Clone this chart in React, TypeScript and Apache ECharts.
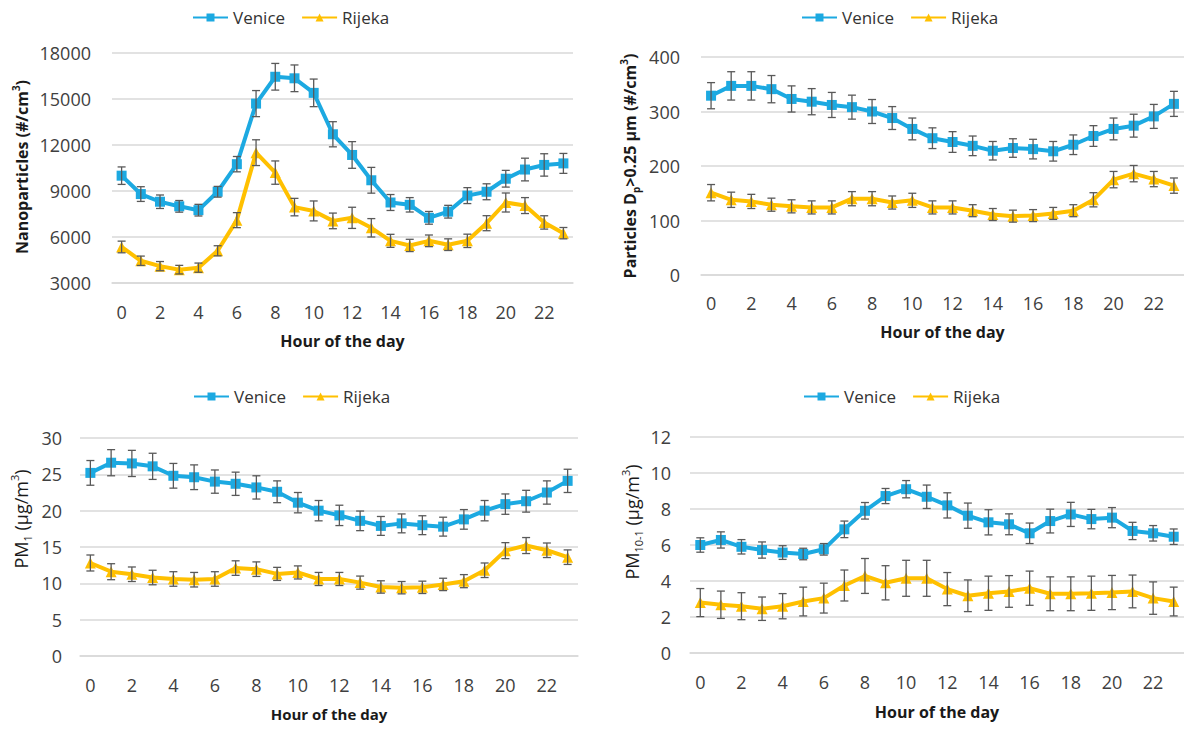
import React, { useEffect, useRef } from "react";
import * as echarts from "echarts";

const hours = ["0","1","2","3","4","5","6","7","8","9","10","11","12","13","14","15","16","17","18","19","20","21","22","23"];

const nanoVenice = [10000, 8800, 8300, 8000, 7750, 8950, 10750, 14700, 16450, 16350, 15400, 12700, 11350, 9700, 8250, 8100, 7250, 7650, 8700, 8950, 9800, 10400, 10700, 10800];
const nanoVeniceErr = [570, 480, 440, 380, 380, 350, 500, 850, 870, 870, 900, 820, 870, 840, 520, 470, 415, 415, 520, 520, 545, 740, 730, 650];
const nanoRijeka = [5350, 4450, 4100, 3870, 4000, 5100, 7100, 11500, 10200, 7950, 7700, 7050, 7250, 6600, 5750, 5450, 5750, 5500, 5750, 6900, 8250, 8050, 6950, 6250];
const nanoRijekaErr = [380, 305, 300, 280, 300, 330, 490, 840, 760, 570, 650, 510, 690, 600, 425, 400, 380, 380, 435, 490, 620, 520, 435, 370];

const partVenice = [329, 347, 347, 341, 323, 318, 312, 308, 300, 288, 268, 251, 244, 237, 228, 233, 231, 227, 239, 255, 268, 274, 291, 314];
const partVeniceErr = [24, 26, 26, 25, 24, 24, 23, 22, 22, 21, 20, 19, 19, 18, 17, 17, 18, 18, 18, 19, 20, 21, 22, 23];
const partRijeka = [151, 138, 135, 129, 126, 124, 124, 140, 140, 133, 137, 124, 124, 118, 111, 108, 109, 113, 118, 138, 175, 186, 176, 164];
const partRijekaErr = [15, 14, 13, 12, 12, 12, 12, 13, 13, 12, 13, 12, 12, 11, 11, 11, 11, 11, 11, 13, 15, 15, 14, 14];

const pm1Venice = [25.2, 26.6, 26.5, 26.1, 24.8, 24.6, 24.0, 23.7, 23.2, 22.6, 21.1, 20.0, 19.35, 18.6, 17.9, 18.25, 18.0, 17.8, 18.8, 20.0, 20.9, 21.3, 22.5, 24.1];
const pm1VeniceErr = [1.7, 1.8, 1.8, 1.8, 1.7, 1.7, 1.6, 1.6, 1.6, 1.5, 1.4, 1.4, 1.4, 1.35, 1.3, 1.3, 1.3, 1.3, 1.35, 1.4, 1.4, 1.5, 1.6, 1.6];
const pm1Rijeka = [12.8, 11.6, 11.25, 10.8, 10.6, 10.5, 10.6, 12.1, 11.95, 11.3, 11.5, 10.6, 10.6, 10.1, 9.5, 9.4, 9.45, 9.85, 10.3, 11.8, 14.5, 15.2, 14.55, 13.6];
const pm1RijekaErr = [1.1, 1.1, 1.0, 1.0, 1.0, 1.0, 1.0, 1.0, 1.0, 0.9, 0.9, 0.9, 0.9, 0.9, 0.85, 0.85, 0.85, 0.85, 0.9, 1.0, 1.1, 1.1, 1.0, 1.0];

const pm101Venice = [6.0, 6.28, 5.9, 5.72, 5.58, 5.5, 5.76, 6.87, 7.9, 8.72, 9.1, 8.68, 8.2, 7.63, 7.26, 7.15, 6.65, 7.33, 7.7, 7.44, 7.52, 6.78, 6.65, 6.46];
const pm101VeniceErr = [0.4, 0.45, 0.4, 0.45, 0.38, 0.32, 0.32, 0.46, 0.46, 0.42, 0.48, 0.65, 0.7, 0.7, 0.7, 0.58, 0.57, 0.66, 0.67, 0.54, 0.56, 0.48, 0.43, 0.43];
const pm101Rijeka = [2.8, 2.68, 2.6, 2.46, 2.6, 2.86, 3.05, 3.75, 4.28, 3.9, 4.15, 4.15, 3.55, 3.18, 3.32, 3.42, 3.6, 3.29, 3.29, 3.32, 3.36, 3.42, 3.05, 2.86];
const pm101RijekaErr = [0.78, 0.76, 0.75, 0.65, 0.7, 0.8, 0.83, 0.86, 0.97, 0.95, 1.0, 1.0, 0.92, 0.88, 0.95, 0.88, 0.95, 0.94, 0.94, 0.95, 0.95, 0.91, 0.9, 0.8];

const yAxisMin = [3000, 0, 0, 0];
const yAxisMax = [18000, 400, 30, 12];
const yAxisInterval = [3000, 100, 5, 2];

const BLUE = "#1CA9E1";
const GOLD = "#FFC000";
const FONT = "Open Sans";

const panels = [
  { venice: nanoVenice, veniceErr: nanoVeniceErr, rijeka: nanoRijeka, rijekaErr: nanoRijekaErr },
  { venice: partVenice, veniceErr: partVeniceErr, rijeka: partRijeka, rijekaErr: partRijekaErr },
  { venice: pm1Venice, veniceErr: pm1VeniceErr, rijeka: pm1Rijeka, rijekaErr: pm1RijekaErr },
  { venice: pm101Venice, veniceErr: pm101VeniceErr, rijeka: pm101Rijeka, rijekaErr: pm101RijekaErr },
];

const grids = [
  { left: 112, top: 53, width: 461, height: 230 },
  { left: 701, top: 57, width: 488, height: 218 },
  { left: 80, top: 438, width: 498, height: 218 },
  { left: 690, top: 437, width: 498, height: 216 },
];
const yLabelMargin = [21, 21, 18, 19];
const xLabelMargin = [20, 19, 20, 20];
const xNameGap = [50, 49, 50, 51];
const xNameSize = [16, 16, 15, 16];
const legendPos = [
  { left: 192, top: 9 },
  { left: 801, top: 9 },
  { left: 193, top: 388 },
  { left: 803, top: 388 },
];

function errData(vals: number[], errs: number[]) {
  return vals.map((v, i) => [i, v - errs[i], v + errs[i]]);
}

function errorSeries(idx: number, vals: number[], errs: number[], name: string) {
  return {
    type: "custom",
    name,
    xAxisIndex: idx,
    yAxisIndex: idx,
    z: 5,
    silent: true,
    encode: { x: 0, y: [1, 2] },
    data: errData(vals, errs),
    renderItem: (params: any, api: any) => {
      const x = api.value(0);
      const lo = api.coord([x, api.value(1)]);
      const hi = api.coord([x, api.value(2)]);
      const hw = 4;
      const style = { stroke: "#595959", lineWidth: 1.3 };
      return {
        type: "group",
        children: [
          { type: "line", shape: { x1: hi[0], y1: hi[1], x2: lo[0], y2: lo[1] }, style },
          { type: "line", shape: { x1: hi[0] - hw, y1: hi[1], x2: hi[0] + hw, y2: hi[1] }, style },
          { type: "line", shape: { x1: lo[0] - hw, y1: lo[1], x2: lo[0] + hw, y2: lo[1] }, style },
        ],
      };
    },
  };
}

export default function App() {
  const ref = useRef<HTMLDivElement>(null);
  useEffect(() => {
    if (!ref.current) return;
    const chart = echarts.init(ref.current, null, { renderer: "svg" });
    const series: any[] = [];
    panels.forEach((p, i) => {
      series.push({
        type: "line",
        name: "Venice",
        xAxisIndex: i,
        yAxisIndex: i,
        data: p.venice,
        symbol: "rect",
        symbolSize: 10,
        lineStyle: { color: BLUE, width: 4 },
        itemStyle: { color: BLUE },
        z: 3,
      });
      series.push({
        type: "line",
        name: "Rijeka",
        xAxisIndex: i,
        yAxisIndex: i,
        data: p.rijeka,
        symbol: "triangle",
        symbolSize: 11,
        lineStyle: { color: GOLD, width: 4 },
        itemStyle: { color: GOLD },
        z: 3,
      });
      series.push(errorSeries(i, p.venice, p.veniceErr, "Venice error"));
      series.push(errorSeries(i, p.rijeka, p.rijekaErr, "Rijeka error"));
    });

    const mainB = { fontFamily: FONT, fontSize: 16, fontWeight: "bold", color: "#1a1a1a", lineHeight: 22 };
    const supB = { fontFamily: FONT, fontSize: 10, fontWeight: "bold", color: "#1a1a1a", verticalAlign: "top", lineHeight: 22 };
    const subB = { fontFamily: FONT, fontSize: 10, fontWeight: "bold", color: "#1a1a1a", verticalAlign: "bottom", lineHeight: 16 };
    const mainR = { fontFamily: FONT, fontSize: 18, color: "#1a1a1a", lineHeight: 24 };
    const supR = { fontFamily: FONT, fontSize: 11, color: "#1a1a1a", verticalAlign: "top", lineHeight: 24 };
    const subR = { fontFamily: FONT, fontSize: 11, color: "#1a1a1a", verticalAlign: "bottom", lineHeight: 16 };

    const yTitles = [
      { x: 22, y: 167, text: "{b|Nanoparticles (#/cm}{bs|3}{b|)}" },
      { x: 630, y: 166, text: "{b|Particles D}{bsub|p}{b|>0.25 µm (#/cm}{bs|3}{b|)}" },
      { x: 21, y: 519, text: "{r|PM}{rsub|1}{r| (µg/m}{rs|3}{r|)}" },
      { x: 632, y: 522, text: "{r|PM}{rsub|10-1}{r| (µg/m}{rs|3}{r|)}" },
    ];

    const option: any = {
      animation: false,
      backgroundColor: "#ffffff",
      textStyle: { fontFamily: FONT },
      legend: legendPos.map((lp) => ({
        data: ["Venice", "Rijeka"],
        left: lp.left,
        top: lp.top,
        padding: 0,
        itemWidth: 35,
        itemHeight: 10,
        itemGap: 16,
        selectedMode: false,
        textStyle: { fontFamily: FONT, fontSize: 17, color: "#333333" },
      })),
      grid: grids.map((g) => ({ ...g, containLabel: false })),
      xAxis: grids.map((g, i) => ({
        type: "category",
        gridIndex: i,
        data: hours,
        boundaryGap: true,
        axisLine: { show: true, lineStyle: { color: "#D9D9D9", width: 1.5 } },
        axisTick: { show: false },
        axisLabel: { interval: 1, margin: xLabelMargin[i], fontFamily: FONT, fontSize: 18, color: "#404040" },
        name: "Hour of the day",
        nameLocation: "middle",
        nameGap: xNameGap[i],
        nameTextStyle: { fontFamily: FONT, fontSize: xNameSize[i], fontWeight: "bold", color: "#1a1a1a" },
      })),
      yAxis: grids.map((g, i) => ({
        type: "value",
        gridIndex: i,
        min: yAxisMin[i],
        max: yAxisMax[i],
        interval: yAxisInterval[i],
        axisLine: { show: false },
        axisTick: { show: false },
        splitLine: { show: true, lineStyle: { color: "#D9D9D9", width: 1.5 } },
        axisLabel: {
          margin: yLabelMargin[i],
          fontFamily: FONT,
          fontSize: 18,
          color: "#404040",
          formatter: (v: number) => String(v),
        },
      })),
      graphic: yTitles.map((t) => ({
        type: "text",
        x: t.x,
        y: t.y,
        rotation: Math.PI / 2,
        style: {
          text: t.text,
          align: "center",
          verticalAlign: "middle",
          fill: "#1a1a1a",
          rich: { b: mainB, bs: supB, bsub: subB, r: mainR, rs: supR, rsub: subR },
        },
      })),
      series,
    };
    chart.setOption(option);
    return () => chart.dispose();
  }, []);
  return (
    <div
      ref={ref}
      style={{ position: "fixed", left: 0, top: 0, width: 1184, height: 729, background: "#fff" }}
    />
  );
}
